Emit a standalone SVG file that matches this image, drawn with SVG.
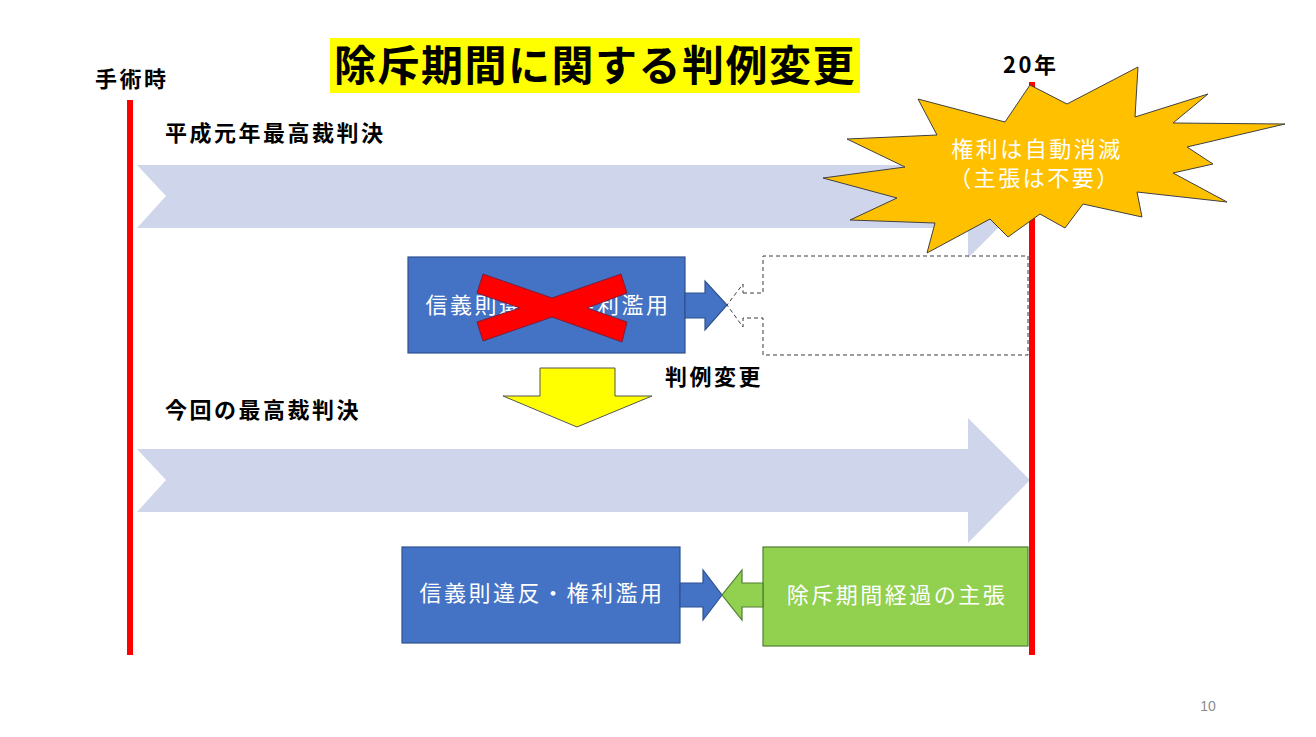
<svg xmlns="http://www.w3.org/2000/svg" width="1316" height="737" viewBox="0 0 1316 737">
<style>
.lbl{font-family:"Noto Sans CJK JP","Noto Sans",sans-serif;font-size:22px;font-weight:bold;fill:#000;letter-spacing:2.5px}
.wt{font-family:"Noto Sans CJK JP","Noto Sans",sans-serif;font-size:22px;fill:#fff;letter-spacing:2.5px;text-anchor:middle}
.band{fill:#CFD5EA}
.red{fill:#FF0000}
</style>
<rect width="1316" height="737" fill="#fff"/>

<g id="title">
<rect x="330" y="38" width="530" height="55" fill="#FFFF00"/>
<text x="595" y="81" text-anchor="middle" style="font-family:'Noto Sans CJK JP',sans-serif;font-size:42px;font-weight:bold;letter-spacing:1.5px">除斥期間に関する判例変更</text>
</g>

<g id="band-top"><polygon class="band" points="137,165 968,165 968,135 1030,196 968,258 968,228 137,228 166,196"/></g>
<g id="band-bottom"><polygon class="band" points="137,449 968,449 968,418 1030,480 968,543 968,512 137,512 166,480"/></g>

<g id="timeline-start">
<rect x="127" y="100" width="6" height="555" class="red"/>
<text class="lbl" x="95" y="87">手術時</text>
</g>
<g id="timeline-end">
<rect x="1029" y="82" width="6" height="573" class="red"/>
<text class="lbl" x="1003" y="73" letter-spacing="0">20年</text>
</g>

<g id="label-h1"><text class="lbl" x="165" y="141">平成元年最高裁判決</text></g>
<g id="label-now"><text class="lbl" x="165" y="418">今回の最高裁判決</text></g>
<g id="label-change"><text class="lbl" x="665" y="385">判例変更</text></g>

<g id="old-blue">
<rect x="408" y="257" width="277" height="96" fill="#4472C4" stroke="#2F528F" stroke-width="1.2"/>
<polygon points="685,293 705,293 705,281 727,305 705,330 705,318 685,318" fill="#4472C4" stroke="#2F528F" stroke-width="1.2"/>
<text class="wt" x="548" y="313">信義則違反・権利濫用</text>
</g>

<g id="old-dashed">
<path d="M743,293 L763,293 L763,256 L1028,256 L1028,355 L763,355 L763,318 L743,318 L743,327 L727,305 L743,284 Z" fill="none" stroke="#3a3a3a" stroke-width="1" stroke-dasharray="4,3"/>
</g>

<g id="cross">
<polygon points="483,274 552,298 621,274 627,293 587,308 627,322 622,342 552,317 483,341 477,322 520,308 477,293" fill="#FF0000" stroke="#7A1F3D" stroke-width="1"/>
</g>

<g id="down-arrow">
<polygon points="540,368 615,368 615,396 652,396 577,427 503,396 540,396" fill="#FFFF00" stroke="#555" stroke-width="1"/>
</g>

<g id="new-blue">
<rect x="402" y="547" width="278" height="96" fill="#4472C4" stroke="#2F528F" stroke-width="1.2"/>
<polygon points="680,583 703,583 703,570 722,595 703,620 703,607 680,607" fill="#4472C4" stroke="#2F528F" stroke-width="1.2"/>
<text class="wt" x="542" y="601">信義則違反・権利濫用</text>
</g>

<g id="new-green">
<rect x="763" y="547" width="265" height="99" fill="#92D050" stroke="#507E32" stroke-width="1.2"/>
<polygon points="763,583 742,583 742,570 722,595 742,620 742,607 763,607" fill="#92D050" stroke="#507E32" stroke-width="1.2"/>
<text class="wt" x="897" y="603">除斥期間経過の主張</text>
</g>

<g id="burst">
<polygon points="1030,85 1067,104 1138,67 1135,117 1208,94 1173,123 1285,124 1187,147 1213,164 1173,173 1227,202 1137,192 1142,217 1083,204 1065,228 1040,214 1008,237 990,219 927,253 935,223 850,220 897,198 823,178 905,167 847,139 937,135 918,99 1005,122" fill="#FFC000" stroke="#404040" stroke-width="1"/>
<text class="wt" x="1037" y="157">権利は自動消滅</text>
<text class="wt" x="1035" y="186">（主張は不要）</text>
</g>

<g id="page"><text x="1208" y="711" text-anchor="middle" style="font-family:'Liberation Sans',sans-serif;font-size:14px;fill:#8c8c8c">10</text></g>
</svg>
